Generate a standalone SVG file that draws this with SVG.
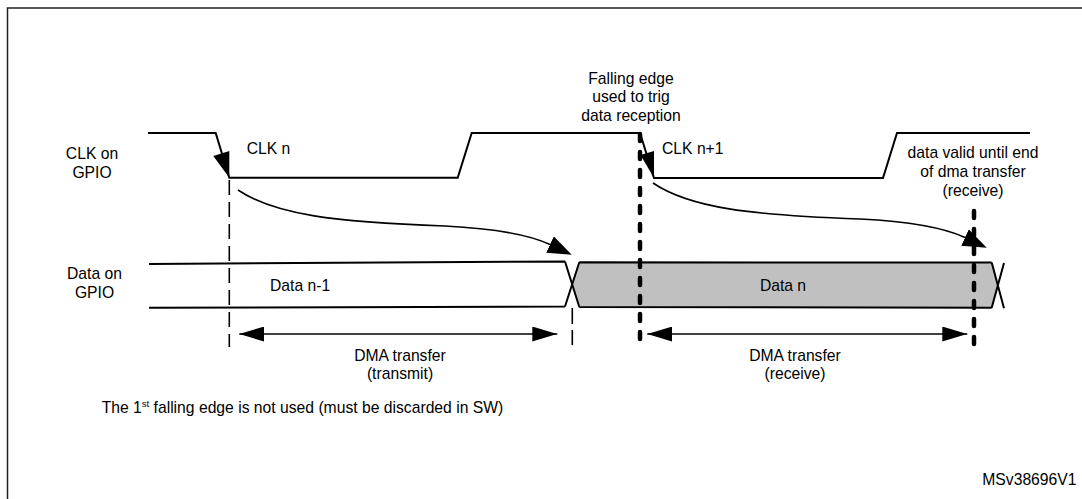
<svg xmlns="http://www.w3.org/2000/svg" width="1082" height="499" viewBox="0 0 1082 499">
<style>
text{font-family:"Liberation Sans",Arial,sans-serif;font-size:15.7px;fill:#000}
.mid{text-anchor:middle}
.wave{fill:none;stroke:#000;stroke-width:2;stroke-linejoin:miter}
.thin{fill:none;stroke:#000;stroke-width:1.6}
.dash{fill:none;stroke:#000;stroke-width:1.6;stroke-dasharray:15 7}
.sync{fill:none;stroke:#000;stroke-width:4.5;stroke-linecap:round;stroke-dasharray:7 11}
.head{fill:#000;stroke:none}
</style>
<defs>
<marker id="curveHead" markerUnits="userSpaceOnUse" viewBox="0 0 24 18" markerWidth="24" markerHeight="18" refX="0" refY="9" orient="auto"><path d="M0,0 L24,9 L0,18 Z" fill="#000"/></marker>
<marker id="dmaHead" markerUnits="userSpaceOnUse" viewBox="0 0 25 15" markerWidth="25" markerHeight="15" refX="25" refY="7.5" orient="auto-start-reverse"><path d="M0,0 L25,7.5 L0,15 Z" fill="#000"/></marker>
</defs>
<rect width="1082" height="499" fill="#fff"/>
<path id="frame" d="M7.5,499 V8 H1082" fill="none" stroke="#222" stroke-width="1.5"/>

<g id="clk-label"><text class="mid" x="92" y="159">CLK on</text><text class="mid" x="92" y="178">GPIO</text></g>
<g id="data-label"><text class="mid" x="94.5" y="279">Data on</text><text class="mid" x="94.5" y="298">GPIO</text></g>

<g id="clk-signal">
<path class="wave" d="M148,133 H215.7 L229.3,177.7 H457.7 L471.7,133 H640 L654,178 H883 L897,133 H1030"/>
<polygon class="head" points="213.3,156 229.3,151 229.3,177.7"/>
<polygon class="head" points="640.5,155 654,151 654,178"/>
<text x="246.7" y="154">CLK n</text>
<text x="662" y="153.5">CLK n+1</text>
</g>

<g id="data-signal">
<polygon points="579.3,262.3 991.7,262.5 997.8,285.4 991.7,307.7 579.3,307 572.2,284.3" fill="#c0c0c0"/>
<path class="wave" d="M149,264 L565,261.5 M149,307.7 L565,306.5 M565,261.5 L579.3,307 M565,306.5 L579.3,262.3 M579.3,262.3 L991.7,262.5 M579.3,307 L991.7,307.7 M991.7,262.5 L1004,308.3 M991.7,307.7 L1004,263"/>
<text x="270" y="290.5">Data n-1</text>
<text class="mid" x="783" y="291">Data n</text>
</g>

<g id="markers">
<line class="dash" x1="229.3" y1="180" x2="229.3" y2="347"/>
<line class="dash" x1="572.3" y1="308" x2="572.3" y2="345" style="stroke-dasharray:16 6"/>
<line class="sync" x1="640" y1="134" x2="640" y2="348"/>
<line class="sync" x1="974" y1="211" x2="974" y2="353"/>
</g>

<g id="connectors">
<path class="thin" d="M238,190 C275,215 335,222 445,226 C495,228.5 529,234.7 550,244.5" marker-end="url(#curveHead)"/>
<path class="thin" d="M653,183 C690,208 750,215 860,219 C910,221.5 944,227.7 965,237.5" marker-end="url(#curveHead)"/>
<line class="thin" x1="239.3" y1="334" x2="557.3" y2="334" marker-start="url(#dmaHead)" marker-end="url(#dmaHead)"/>
<line class="thin" x1="647.3" y1="334" x2="967.3" y2="334" marker-start="url(#dmaHead)" marker-end="url(#dmaHead)"/>
</g>

<g id="annotation-trigger"><text class="mid" x="631" y="83.5">Falling edge</text><text class="mid" x="631" y="102.3">used to trig</text><text class="mid" x="631" y="121">data reception</text></g>
<g id="annotation-valid"><text class="mid" x="973" y="157.5">data valid until end</text><text class="mid" x="973" y="176.7">of dma transfer</text><text class="mid" x="973" y="196">(receive)</text></g>
<g id="dma-transmit-label"><text class="mid" x="400" y="360.7">DMA transfer</text><text class="mid" x="400" y="379">(transmit)</text></g>
<g id="dma-receive-label"><text class="mid" x="795" y="360.7">DMA transfer</text><text class="mid" x="795" y="379">(receive)</text></g>
<text x="101.7" y="413.3">The 1<tspan dy="-6" style="font-size:9.5px">st</tspan><tspan dy="6"> falling edge is not used (must be discarded in SW)</tspan></text>
<text x="982.3" y="485">MSv38696V1</text>
</svg>
